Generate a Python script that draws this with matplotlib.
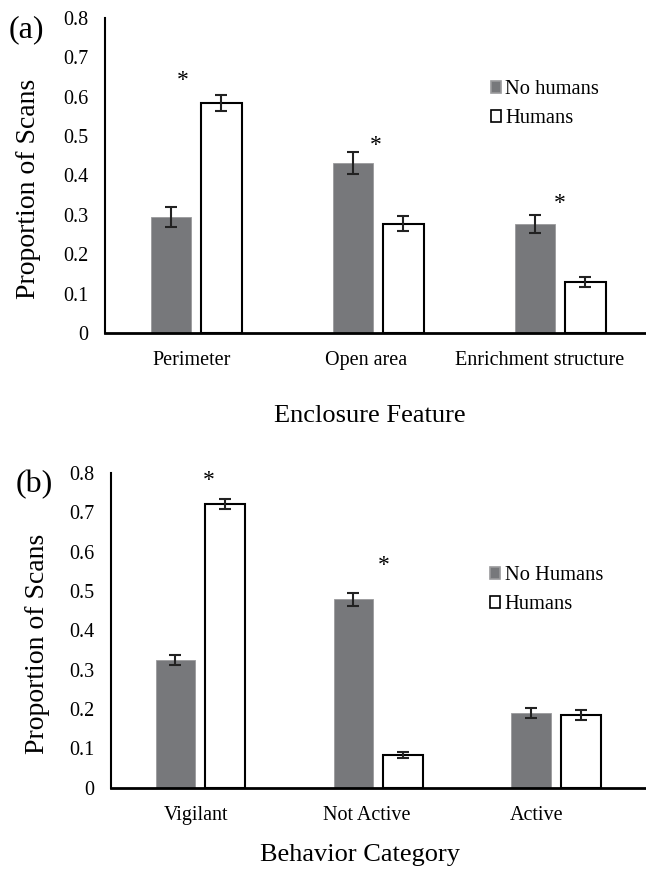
import matplotlib
matplotlib.use('Agg')
import matplotlib.pyplot as plt
import numpy as np

# panel (a) data
features = ['Perimeter', 'Open area', 'Enrichment structure']
a_no_humans = [0.295, 0.431, 0.277]
a_no_humans_err = [0.025, 0.028, 0.022]
a_humans = [0.585, 0.278, 0.130]
a_humans_err = [0.020, 0.018, 0.013]
a_star = [0.64, 0.477, 0.33]   # asterisk heights
a_star_x = [-0.07, 0.99, 2.0]

# panel (b) data
behaviors = ['Vigilant', 'Not Active', 'Active']
b_no_humans = [0.324, 0.479, 0.189]
b_no_humans_err = [0.013, 0.017, 0.013]
b_humans = [0.721, 0.083, 0.185]
b_humans_err = [0.013, 0.008, 0.012]
b_star = [0.78, 0.566]
b_star_x = [0.05, 1.03]

yticks = [0, 0.1, 0.2, 0.3, 0.4, 0.5, 0.6, 0.7, 0.8]
ytick_labels = ['0', '0.1', '0.2', '0.3', '0.4', '0.5', '0.6', '0.7', '0.8']

plt.rcParams['font.family'] = ['Liberation Serif', 'DejaVu Serif']
GREY = '#77787b'

W, H = 646, 871
fig = plt.figure(figsize=(W / 100, H / 100), dpi=100)


def draw_panel(rect, cats, grey, grey_err, white, white_err, star_y, star_x,
               labels, xlabel, tag, legend_pos, xlab_px, ylab_px, tag_px):
    ax = fig.add_axes(rect)
    x = np.arange(len(cats))
    bw = 0.22
    off = 0.14
    ax.bar(x - off, grey, bw, color=GREY, edgecolor='#9a9a9c', linewidth=0.6,
           label=labels[0], zorder=2)
    ax.bar(x + off, white, bw, color='white', edgecolor='black', linewidth=1.5,
           label=labels[1], zorder=2)
    ax.errorbar(x - off, grey, yerr=grey_err, fmt='none', ecolor='#222222',
                elinewidth=1.5, capsize=4, capthick=1.5, zorder=3)
    ax.errorbar(x + off, white, yerr=white_err, fmt='none', ecolor='#222222',
                elinewidth=1.5, capsize=4, capthick=1.5, zorder=3)
    for sx, sy in zip(star_x, star_y):
        ax.text(sx, sy, '*', ha='center', va='center', fontsize=17)
    ax.set_xlim(-0.5, 2.5)
    ax.set_ylim(0, 0.8)
    ax.set_yticks(yticks)
    ax.set_yticklabels(ytick_labels, fontsize=14.5)
    # category labels sit on a slightly narrower spacing than the bars
    ax.set_xticks(x * 0.956 - 0.022)
    ax.set_xticklabels(cats, fontsize=14.5)
    ax.tick_params(axis='y', length=0, pad=12)
    ax.tick_params(axis='x', length=0, pad=13)
    for s in ['top', 'right']:
        ax.spines[s].set_visible(False)
    ax.spines['left'].set_linewidth(1.5)
    ax.spines['bottom'].set_linewidth(2)
    fig.text(ylab_px[0] / W, 1 - ylab_px[1] / H, 'Proportion of Scans',
             rotation=90, fontsize=20, ha='center', va='center')
    fig.text(xlab_px[0] / W, 1 - xlab_px[1] / H, xlabel,
             fontsize=19, ha='center', va='center')
    fig.text(tag_px[0] / W, 1 - tag_px[1] / H, tag, fontsize=23,
             ha='center', va='center')
    leg = ax.legend(loc='upper left', bbox_to_anchor=legend_pos, frameon=False,
                    fontsize=14.8, handlelength=0.5, handleheight=0.5,
                    handletextpad=0.2, labelspacing=0.5, borderaxespad=0,
                    borderpad=0)
    for h in leg.legend_handles:
        h.set_linewidth(1.2)
    return ax


draw_panel([105 / W, (H - 333) / H, 546 / W, 315 / H], features,
           a_no_humans, a_no_humans_err, a_humans, a_humans_err,
           a_star, a_star_x, ['No humans', 'Humans'], 'Enclosure Feature',
           '(a)', (0.707, 0.803), (370, 416), (29, 188.5), (26, 30))

draw_panel([111 / W, (H - 787.7) / H, 534 / W, 314.7 / H], behaviors,
           b_no_humans, b_no_humans_err, b_humans, b_humans_err,
           b_star, b_star_x, ['No Humans', 'Humans'], 'Behavior Category',
           '(b)', (0.71, 0.704), (360, 855), (38, 644), (34, 485))

fig.savefig('out.png', dpi=100)
